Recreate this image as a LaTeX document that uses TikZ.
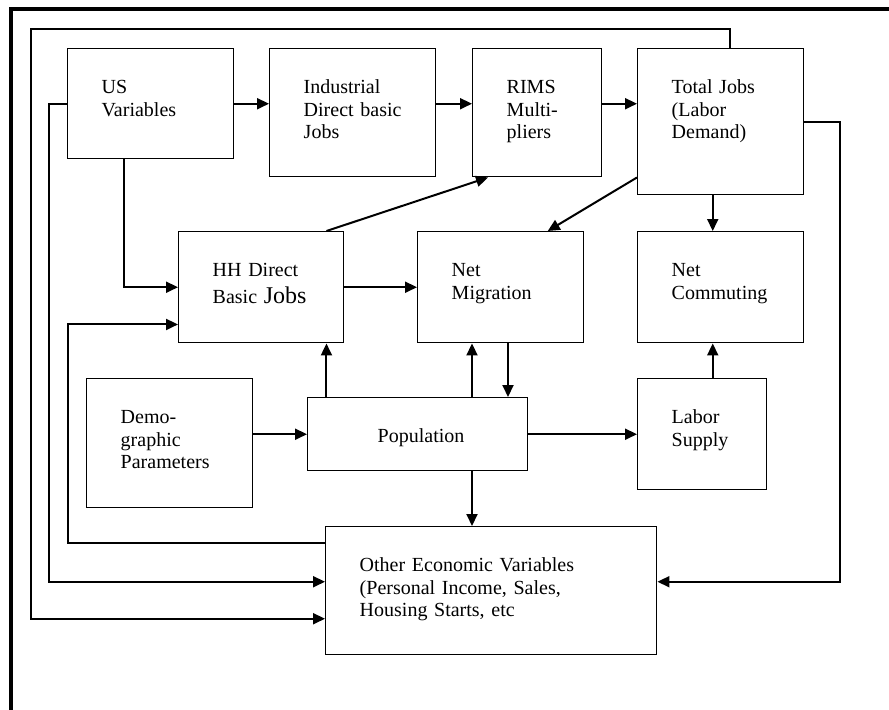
\documentclass[tikz,border=0pt]{standalone}
\usepackage{fontspec}
\setmainfont{Liberation Serif}
\usetikzlibrary{arrows.meta}

\begin{document}
\begin{tikzpicture}[
    x=0.75pt,
    y=-0.75pt,
    -{Triangle[length=9pt,width=8.25pt]},
    line width=1.5pt,
    font=\fontsize{15}{16.75}\selectfont,
    main node/.style={-,draw,line width=1.1pt,anchor=north west,inner sep=0pt,align=left,text height=33.75pt},
    wide node/.style={main node,minimum width=124.5pt,text width=73.5pt},
    narrow node/.style={main node,minimum width=96.75pt,text width=45.75pt}
    ]

    \useasboundingbox (0,0) rectangle (889,710);
    \draw[-,line width=3pt] (11.3,710) -- (11.3,9) -- (889,9);

    \node[wide node, text depth=48.75pt] (1) at (67,48) {US\\Variables};
    \node[wide node, text depth=62.25pt] (2) at (269,48) {Industrial\\Direct basic\\Jobs};
    \node[narrow node, text depth=62.25pt] (3) at (472,48) {RIMS\\Multi-\\pliers};
    \node[wide node, text depth=75.75pt] (4) at (637,48) {Total Jobs\\(Labor\\Demand)};
    \node[main node, minimum width=123.75pt, text width=72.75pt, text depth=49.5pt] (5) at (178,231) {HH Direct\\[3.5pt]Basic {\fontsize{18}{16.75}\selectfont Jobs}};
    \node[wide node, text depth=49.5pt] (6) at (417,231) {Net\\Migration};
    \node[wide node, text depth=49.5pt] (7) at (637,231) {Net\\Commuting};
    \node[wide node, text depth=63pt] (8) at (86,378) {Demo-\\graphic\\Parameters};
    \node[main node, minimum width=165pt, text width=60pt, text depth=21pt] (9) at (307,397) {Population};
    \node[narrow node, text depth=49.5pt] (10) at (637,378) {Labor\\Supply};
    \node[main node, minimum width=248.25pt, text width=197.25pt, text depth=62.25pt] (11) at (325,526) {Other Economic Variables\\(Personal Income, Sales,\\Housing Starts, etc};

    % lanes of the feedback lines
    \coordinate (a) at (31,29);
    \coordinate (b) at (49,0);
    \coordinate (c) at (68,0);
    \coordinate (d) at (840,0);
    \coordinate (e) at ([xshift=-6pt]4.south);
    \coordinate (f) at ([xshift=-13.5pt]5.south east);
    \coordinate (g) at ([xshift=41.25pt]6.south west);
    \coordinate (h) at ([xshift=68.25pt]6.south west);
    \coordinate (i) at ([yshift=6.75pt]11.west);
    \coordinate (j) at ([yshift=-21pt]11.west);
    \coordinate (k) at ([yshift=14.25pt]5.south west);

    \path[]
      (1.east) edge (1.east -| 2.west)
      (1.east -| 2.east) edge (1.east -| 3.west)
      (1.east -| 3.east) edge (1.east -| 4.west)
      (e) edge (e |- 7.north)
      ([yshift=13.5pt]4.south west) edge ([xshift=35.25pt]6.north)
      ([xshift=-13.5pt]5.north east) edge ([xshift=12pt]3.south west)
      (5.east) edge (6.west)
      (8.east |- 9.west) edge (9.west)
      (9.east) edge (9.east -| 10.west)
      (f |- 9.north) edge (f)
      (g |- 9.north) edge (g)
      (h) edge (h |- 9.north)
      (g |- 9.south) edge (g |- 11.north)
      (e |- 10.north) edge (e |- 7.south);

    \draw ([xshift=-20.25pt]1.south) |- (5.west);
    \draw (1.west) -| (b |- i) -- (i);
    \draw ([xshift=6.75pt]4.north) |- (a) |- (j);
    \draw (4.east) -| (d |- i) -- (11.east |- i);
    \draw ([yshift=-12.75pt]11.north west) -| (c |- k) -- (k);
  \end{tikzpicture}
\end{document}
